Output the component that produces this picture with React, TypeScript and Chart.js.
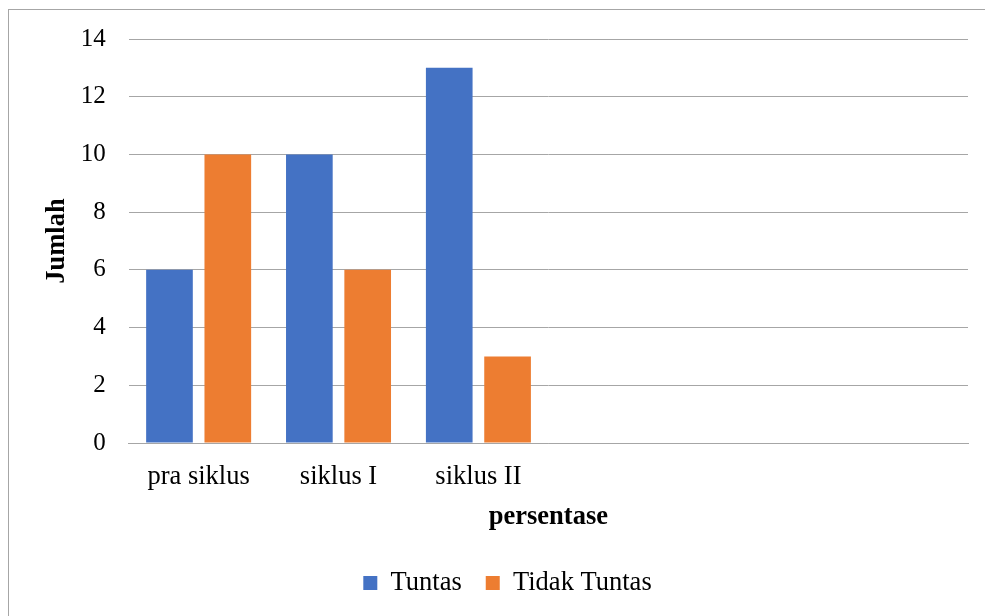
import React, { useEffect, useRef } from "react";
import { Chart, registerables } from "chart.js";

Chart.register(...registerables);

const categories = ["pra siklus", "siklus I", "siklus II", "", "", ""];
const tuntas = [6, 10, 13, null, null, null];
const tidakTuntas = [10, 6, 3, null, null, null];
const yTicks = [0, 2, 4, 6, 8, 10, 12, 14];

const FONT = "'Liberation Serif', 'Times New Roman', serif";
const GRID = "#a6a6a6";
const FS = 26.5;

export default function App() {
  const ref = useRef<HTMLCanvasElement | null>(null);

  useEffect(() => {
    if (!ref.current) return;
    const chart = new Chart(ref.current, {
      type: "bar",
      data: {
        labels: categories,
        datasets: [
          {
            label: "Tuntas",
            data: tuntas as any,
            backgroundColor: "#4472C4",
            categoryPercentage: 0.834,
            barPercentage: 0.8,
            yAxisID: "y",
          },
          {
            label: "Tidak Tuntas",
            data: tidakTuntas as any,
            backgroundColor: "#ED7D31",
            categoryPercentage: 0.834,
            barPercentage: 0.8,
            yAxisID: "y",
          },
        ],
      },
      options: {
        responsive: false,
        animation: false,
        layout: { padding: { left: 0, right: 0, top: 29, bottom: 43.75 } },
        plugins: {
          legend: {
            position: "bottom",
            labels: {
              font: { family: FONT, size: FS },
              color: "#000",
              boxWidth: 14,
              boxHeight: 14,
              padding: 24,
            },
          },
          tooltip: { enabled: false },
        },
        scales: {
          x: {
            grid: { display: false, drawTicks: false },
            border: { display: true, color: GRID, width: 1 },
            ticks: {
              font: { family: FONT, size: FS },
              color: "#000",
              padding: 18,
              maxRotation: 0,
              autoSkip: false,
            },
            title: {
              display: true,
              text: "persentase",
              font: { family: FONT, size: FS, weight: "bold" },
              color: "#000",
              padding: { top: 12.3, bottom: 12.3 },
            },
            afterFit: (s: any) => {
              s.height = 102.75;
            },
          },
          y: {
            position: "left",
            min: 0,
            max: 14,
            afterBuildTicks: (s: any) => {
              s.ticks = yTicks.map((v) => ({ value: v }));
            },
            grid: {
              color: GRID,
              lineWidth: 1,
              drawTicks: true,
              tickLength: 23,
              tickColor: "rgba(0,0,0,0)",
            },
            border: { display: false },
            ticks: {
              font: { family: FONT, size: 25 },
              color: "#000",
              padding: 0,
            },
            title: {
              display: true,
              text: "Jumlah",
              font: { family: FONT, size: FS, weight: "bold" },
              color: "#000",
              padding: { top: 32, bottom: 32 },
            },
            afterFit: (s: any) => {
              s.width = 119.7;
            },
          },
          yR: {
            position: "right",
            display: true,
            min: 0,
            max: 14,
            grid: { display: false, drawTicks: false },
            border: { display: false },
            ticks: { display: false },
            afterFit: (s: any) => {
              s.width = 38;
            },
          },
        },
      },
    });
    return () => chart.destroy();
  }, []);

  return (
    <div
      style={{
        position: "fixed",
        left: 0,
        top: 0,
        width: 985,
        height: 616,
        overflow: "hidden",
        background: "#fff",
      }}
    >
      <div
        style={{
          position: "absolute",
          left: 8,
          top: 9,
          width: 1000,
          height: 640,
          border: `1px solid ${GRID}`,
        }}
      >
        <canvas
          ref={ref}
          width={997}
          height={640}
          style={{ display: "block", width: 997, height: 640 }}
        />
      </div>
    </div>
  );
}
